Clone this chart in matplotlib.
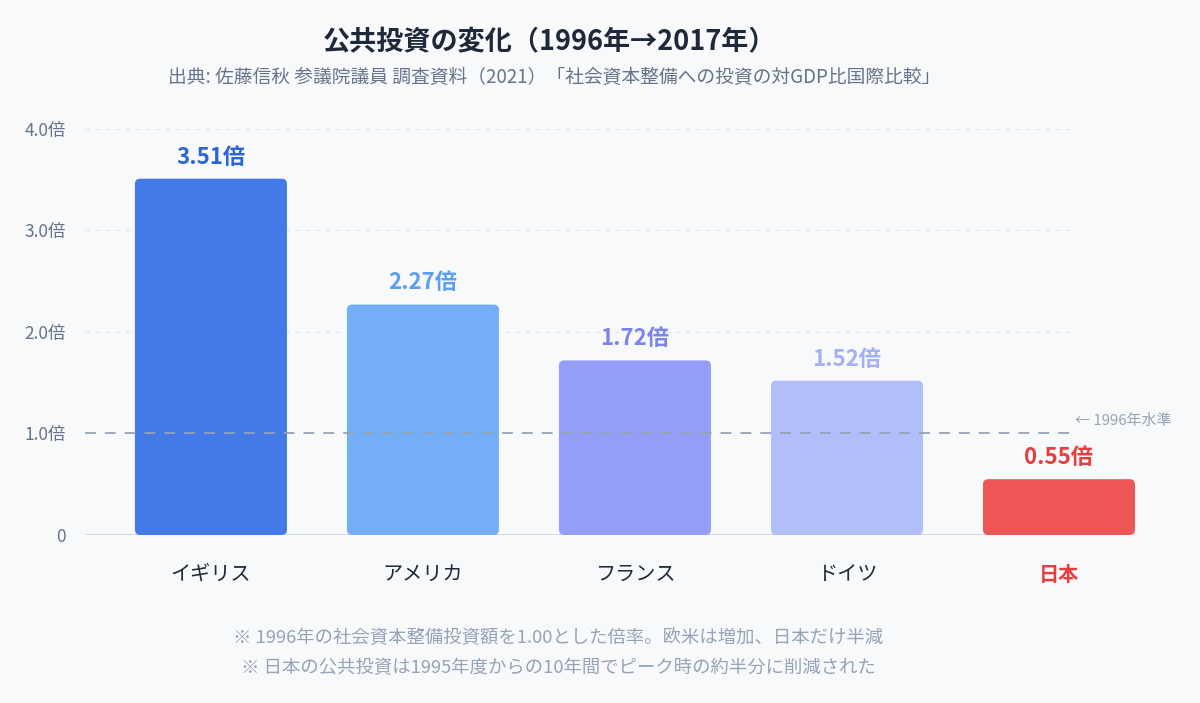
import matplotlib
matplotlib.use('Agg')
import matplotlib.pyplot as plt
from matplotlib.patches import FancyBboxPatch

plt.rcParams['font.family'] = ['Noto Sans CJK JP', 'DejaVu Sans']

# ── data
countries = ['イギリス', 'アメリカ', 'フランス', 'ドイツ', '日本']
ratios = [3.51, 2.27, 1.72, 1.52, 0.55]
bar_colors = ['#4479e8', '#74aef6', '#949ef6', '#b1bef9', '#ef5656']
label_colors = ['#2c64da', '#5c9ff0', '#7b84ea', '#a3b0f4', '#e53e3e']
yticks = [0, 1, 2, 3, 4]
ytick_labels = ['0', '1.0倍', '2.0倍', '3.0倍', '4.0倍']

BG = '#f8f9fb'
fig = plt.figure(figsize=(12, 7.03), dpi=100, facecolor=BG)
ax = fig.add_axes([85 / 1200, 1 - 535 / 703, 985 / 1200, (535 - 118.8) / 703])
ax.set_facecolor(BG)

x = list(range(len(countries)))
bars = ax.bar(x, ratios, width=0.717, color=bar_colors)

# swap plain bars for rounded ones
for rect, c in zip(bars.patches, bar_colors):
    rect.set_visible(False)
    fb = FancyBboxPatch((rect.get_x(), rect.get_y()), rect.get_width(), rect.get_height(),
                        boxstyle='round,pad=0,rounding_size=0.025',
                        mutation_aspect=2.09, facecolor=c, edgecolor='none',
                        clip_on=False, zorder=3)
    ax.add_patch(fb)

ax.set_xlim(-0.594, 4.052)
ax.set_ylim(0, 4.1)

# light grid
for v in [2, 3, 4]:
    ax.axhline(v, color='#e3e7ee', lw=0.9, ls=(0, (4, 4)), zorder=1)
ax.axhline(0, color='#c9d3e2', lw=1.2, zorder=2)
ax.axhline(1, color='#94a3b8', lw=1.3, ls=(0, (6, 5)), zorder=4)
ax.text(4.075, 1.12, '← 1996年水準', color='#94a3b8', fontsize=10.8,
        ha='left', va='center', clip_on=False)

# value labels
for xi, v, lc in zip(x, ratios, label_colors):
    ax.text(xi, v + 0.1, f'{v:.2f}倍', ha='center', va='bottom',
            fontsize=16, fontweight='bold', color=lc, zorder=5)

ax.set_yticks(yticks)
ax.set_yticklabels(ytick_labels, fontsize=12.5, color='#64748b')
ax.set_xticks(x)
ax.set_xticklabels(countries, fontsize=14.5, color='#1e293b')
xl = ax.get_xticklabels()[-1]
xl.set_color('#e53e3e')
xl.set_fontweight('bold')
ax.tick_params(axis='both', length=0)
ax.tick_params(axis='x', pad=21)
ax.tick_params(axis='y', pad=14)
for s in ax.spines.values():
    s.set_visible(False)

fig.text(550 / 1200, 1 - 42 / 703, '公共投資の変化（1996年→2017年）', ha='center', va='center',
         fontsize=19.5, fontweight='bold', color='#1e293b')
fig.text(554 / 1200, 1 - 77 / 703,
         '出典: 佐藤信秋 参議院議員 調査資料（2021）「社会資本整備への投資の対GDP比国際比較」',
         ha='center', va='center', fontsize=13.5, color='#64748b')
fig.text(558 / 1200, 1 - 638 / 703,
         '※ 1996年の社会資本整備投資額を1.00とした倍率。欧米は増加、日本だけ半減',
         ha='center', va='center', fontsize=13.2, color='#94a3b8')
fig.text(558 / 1200, 1 - 668 / 703,
         '※ 日本の公共投資は1995年度からの10年間でピーク時の約半分に削減された',
         ha='center', va='center', fontsize=13.2, color='#94a3b8')

fig.savefig('out.png', dpi=100, facecolor=BG)
